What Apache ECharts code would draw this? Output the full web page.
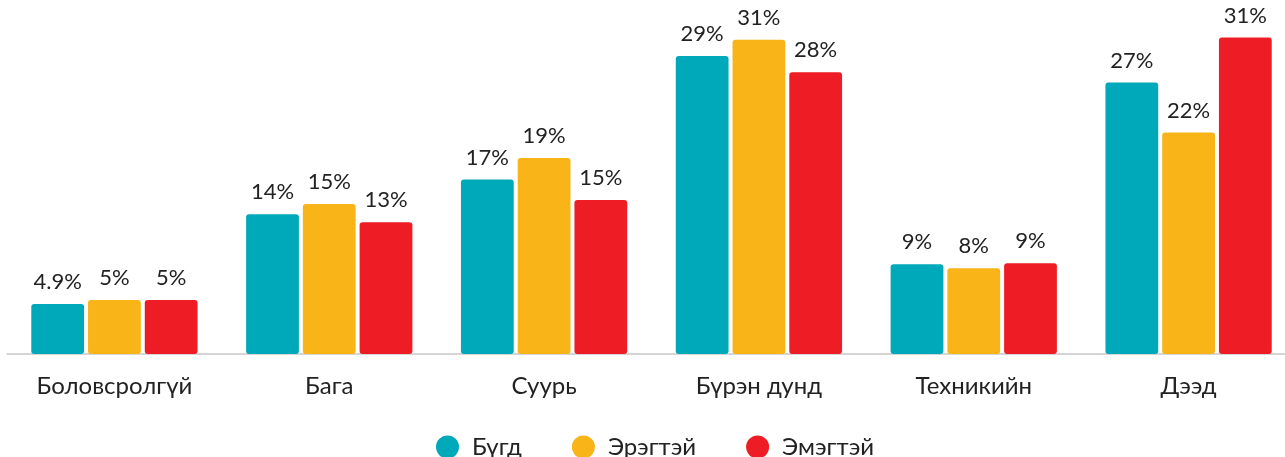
<!DOCTYPE html>
<html><head><meta charset="utf-8">
<script src="https://cdn.jsdelivr.net/npm/echarts@6/dist/echarts.min.js"></script>
<style>html,body{margin:0;padding:0;background:#fff;overflow:hidden}#c{width:1296px;height:457px}</style>
</head><body><div id="c"></div>
<script>
const categories = ['Боловсролгүй','Бага','Суурь','Бүрэн дунд','Техникийн','Дээд'];
const seriesNames = ['Бүгд','Эрэгтэй','Эмэгтэй'];
const totalVals = [4.9, 13.7, 17.1, 29.2, 8.8, 26.6];
const maleVals = [5.3, 14.7, 19.2, 30.8, 8.4, 21.7];
const femaleVals = [5.3, 12.9, 15.1, 27.6, 8.9, 31.0];
const totalLabels = ['4.9%','14%','17%','29%','9%','27%'];
const maleLabels = ['5%','15%','19%','31%','8%','22%'];
const femaleLabels = ['5%','13%','15%','28%','9%','31%'];
const colors = ['#00A9BA','#F9B418','#EE1C25'];

const chart = echarts.init(document.getElementById('c'));
function mk(name, vals, labels, color){
  return {
    name, type:'bar', data: vals, barGap:'7.5%', barCategoryGap:'22.6%',
    itemStyle:{color, borderRadius:3},
    label:{show:true, position:'top', distance:11, fontFamily:'Lato', fontSize:22, color:'#222',
      formatter: p => labels[p.dataIndex]}
  };
}
chart.setOption({
  animation:false,
  textStyle:{fontFamily:'Lato'},
  grid:{left:7, right:0, top:7, bottom:103, containLabel:false},
  legend:{top:430, left:431, icon:'circle', itemWidth:23, itemHeight:23, itemGap:50,
    textStyle:{fontFamily:'Lato', fontSize:24, color:'#222', padding:[0,0,0,8]},
    data: seriesNames},
  xAxis:{type:'category', data:categories,
    axisLine:{lineStyle:{color:'#c8c8c8', width:1.5}}, axisTick:{show:false},
    axisLabel:{fontFamily:'Lato', fontSize:24, color:'#222', margin:20}},
  yAxis:{type:'value', min:0, max:34, show:false, splitLine:{show:false}},
  series:[mk(seriesNames[0], totalVals, totalLabels, colors[0]),
          mk(seriesNames[1], maleVals, maleLabels, colors[1]),
          mk(seriesNames[2], femaleVals, femaleLabels, colors[2])]
});
</script></body></html>
